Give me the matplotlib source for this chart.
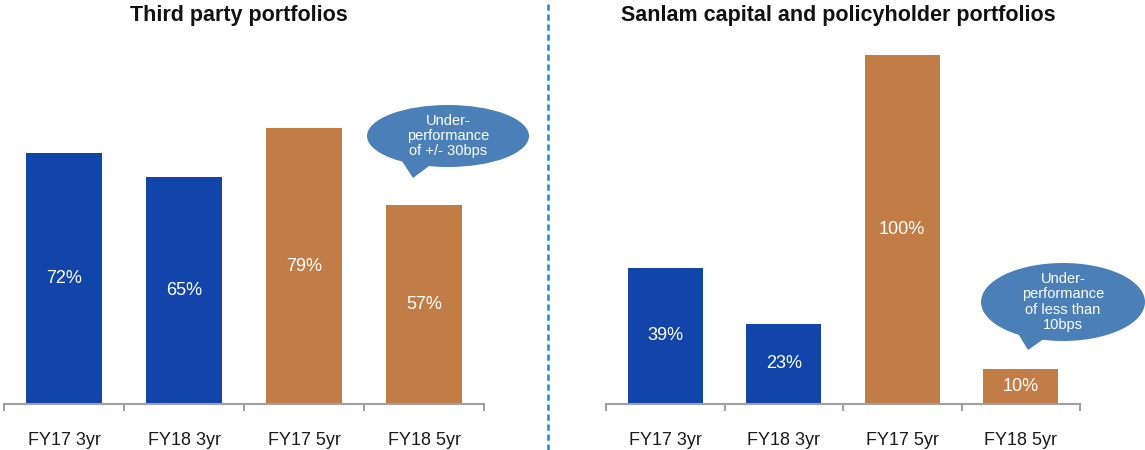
import matplotlib.pyplot as plt
from matplotlib.patches import Ellipse, Polygon
from matplotlib.transforms import Affine2D
from matplotlib.lines import Line2D

plt.rcParams['font.family'] = ['Liberation Sans', 'DejaVu Sans']

categories = ['FY17 3yr', 'FY18 3yr', 'FY17 5yr', 'FY18 5yr']
third_party = [72, 65, 79, 57]
sanlam = [39, 23, 100, 10]
titles = ['Third party portfolios', 'Sanlam capital and policyholder portfolios']
bubble_texts = ['Under-\nperformance\nof +/- 30bps', 'Under-\nperformance\nof less than\n10bps']

BLUE = '#1245a9'
ORANGE = '#c27c46'
BUBBLE = '#4a7fb7'
bar_colors = [BLUE, BLUE, ORANGE, ORANGE]

fig = plt.figure(figsize=(11.45, 4.5), dpi=100)
# reference pixel coords (origin top-left) -> figure
px = Affine2D().scale(1, -1).translate(0, 450).scale(1 / 100) + fig.dpi_scale_trans

ax_left = fig.add_axes([4 / 1145, 46 / 450, 480 / 1145, 401.4 / 450])
ax_right = fig.add_axes([606 / 1145, 46 / 450, 474 / 1145, 401.4 / 450])


def draw_panel(ax, values, title):
    x = range(len(categories))
    bars = ax.bar(x, values, width=0.633, color=bar_colors, zorder=2)
    for b, v in zip(bars, values):
        ax.text(b.get_x() + b.get_width() / 2, v / 2, f'{v}%', ha='center', va='center',
                color='white', fontsize=13)
    ax.set_xlim(-0.5, len(categories) - 0.5)
    ax.set_ylim(0, 115)
    ax.set_yticks([])
    for s in ['top', 'right', 'left']:
        ax.spines[s].set_visible(False)
    ax.spines['bottom'].set_color('#a0a0a0')
    ax.spines['bottom'].set_linewidth(1.5)
    ax.set_xticks(list(x))
    ax.set_xticklabels(categories, fontsize=13, color='#1a1a1a')
    ax.tick_params(axis='x', which='major', length=0, pad=20)
    ax.set_xticks([i - 0.5 for i in range(len(categories) + 1)], minor=True)
    ax.tick_params(axis='x', which='minor', length=5, width=1.5, color='#a0a0a0')
    # title roughly centred over the panel
    bb = ax.get_position()
    fig.text((bb.x0 + bb.x1) / 2 - 5 / 1145, 1 - 15 / 450, title, ha='center', va='center',
             fontsize=15.5, fontweight='bold', color='#111111')


draw_panel(ax_left, third_party, titles[0])
draw_panel(ax_right, sanlam, titles[1])

# dashed separator
fig.add_artist(Line2D([548, 548], [4, 450], transform=px, color='#1f86d8', lw=1.8,
                      linestyle=(0, (2.5, 1.5))))


def bubble(cx, cy, w, h, tail, text):
    fig.add_artist(Polygon(tail, closed=True, transform=px, facecolor=BUBBLE, edgecolor='none'))
    fig.add_artist(Ellipse((cx, cy), w, h, transform=px, facecolor=BUBBLE, edgecolor='none'))
    fig.text(cx / 1145, 1 - cy / 450, text, ha='center', va='center', color='white',
             fontsize=10.5, linespacing=1.1)


bubble(448, 136, 162, 62, [(400, 158), (433, 163), (413, 178)], bubble_texts[0])
bubble(1063, 302, 164, 78, [(1016, 330), (1048, 336), (1028, 350)], bubble_texts[1])

fig.savefig('out.png', dpi=100)
